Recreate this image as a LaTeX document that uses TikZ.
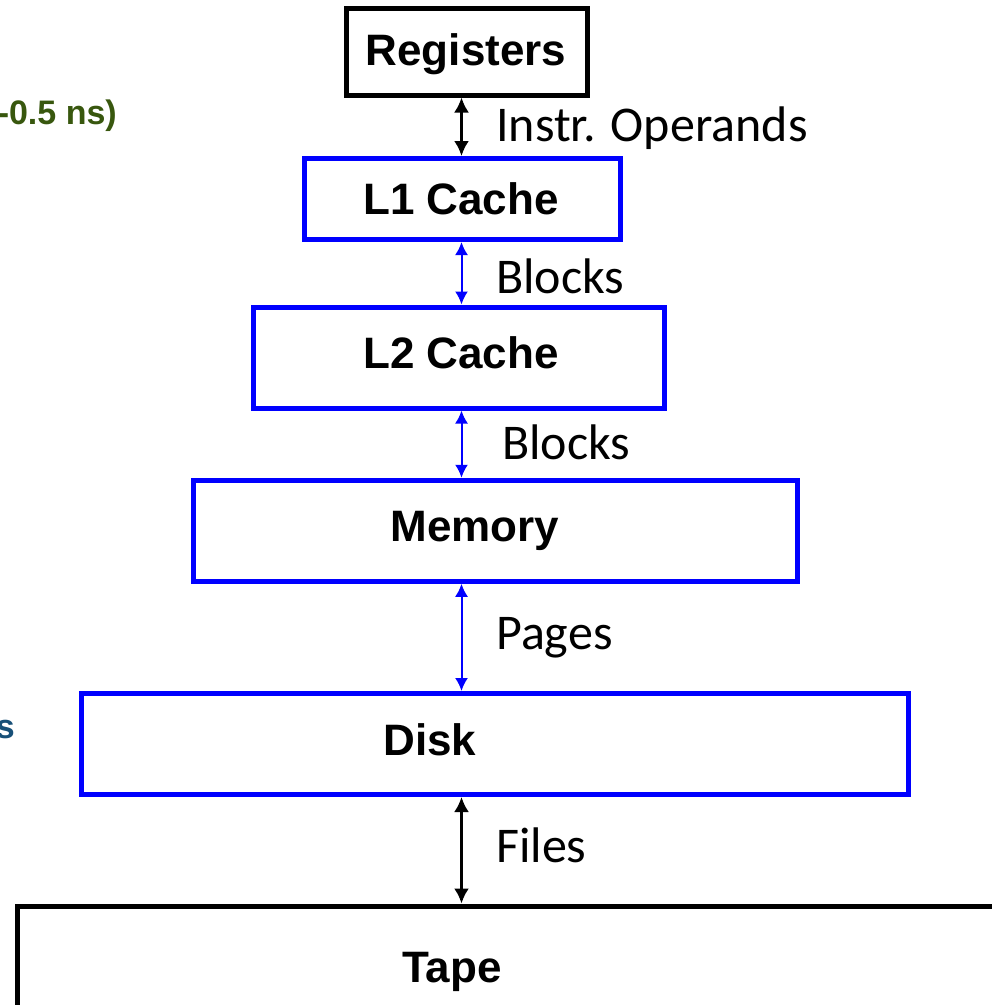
\documentclass[tikz,border=0pt]{standalone}
\usepackage{fontspec}
\setmainfont{Liberation Sans}
\newfontfamily\lblfont{Carlito}
\usetikzlibrary{arrows.meta}
\definecolor{boxblue}{RGB}{0,0,255}
\definecolor{olivetxt}{RGB}{56,87,14}
\definecolor{tealtxt}{RGB}{24,80,120}
\tikzset{
  hbox/.style={draw=#1, line width=5pt, rectangle, inner sep=0pt, outer sep=0.5\pgflinewidth},
  boxtext/.style={font=\fontsize{44}{46}\selectfont\bfseries, anchor=base, inner sep=0pt},
  edgetext/.style={font=\lblfont\fontsize{50}{52}\selectfont, anchor=base west, inner sep=0pt},
  blkarrow/.style={line width=2.6pt, {Latex[length=15pt,width=15pt]}-{Latex[length=15pt,width=15pt]}},
  bluearrow/.style={line width=2pt, draw=boxblue, {Latex[length=13pt,width=13pt]}-{Latex[length=13pt,width=13pt]}, boxblue},
  sidetext/.style={font=\fontsize{34}{36}\selectfont\bfseries, inner sep=0pt}
}
\begin{document}
\begin{tikzpicture}[x=1pt,y=-1pt]
\useasboundingbox (0,0) rectangle (992,1005);
\clip (0,0) rectangle (992,1005);
% boxes
\node[hbox=black, minimum width=241pt, minimum height=87pt] (reg) at (467,51.5) {};
\node[hbox=boxblue, minimum width=316pt, minimum height=81pt] (l1) at (462.25,199) {};
\node[hbox=boxblue, minimum width=411pt, minimum height=101pt] (l2) at (458.5,357.5) {};
\node[hbox=boxblue, minimum width=604pt, minimum height=101pt] (mem) at (495,530.75) {};
\node[hbox=boxblue, minimum width=827pt, minimum height=101pt] (disk) at (494.75,744) {};
\node[hbox=black, minimum width=1000pt, minimum height=200pt] (tape) at (517.5,1006) {};
% box texts
\node[boxtext] (treg) at (466,65) {Registers};
\node[boxtext] (tl1) at (461,214) {L1 Cache};
\node[boxtext] (tl2) at (461,368) {L2 Cache};
\node[boxtext] (tmem) at (475,541) {Memory};
\node[boxtext] (tdisk) at (430,755) {Disk};
\node[boxtext] (ttape) at (452,982) {Tape};
% connectors
\coordinate (ax) at (461.5,0);
\draw[blkarrow] (reg.south -| ax) -- (l1.north -| ax);
\draw[bluearrow] (l1.south -| ax) -- (l2.north -| ax);
\draw[bluearrow] (l2.south -| ax) -- (mem.north -| ax);
\draw[bluearrow] (mem.south -| ax) -- (disk.north -| ax);
\draw[blkarrow] (disk.south -| ax) -- (tape.north -| ax);
% edge labels
\node[edgetext] (e1) at (496,141) {Instr. Operands};
\node[edgetext] (e2) at (496,293) {Blocks};
\node[edgetext] (e3) at (502,459) {Blocks};
\node[edgetext] (e4) at (496,649) {Pages};
\node[edgetext] (e5) at (496,862) {Files};
% clipped side texts
\node[sidetext, text=olivetxt, anchor=base east] (s1) at (117,124) {-0.5 ns)};
\node[sidetext, text=tealtxt, anchor=base east] (s2) at (15,738) {s};
\end{tikzpicture}
\end{document}
